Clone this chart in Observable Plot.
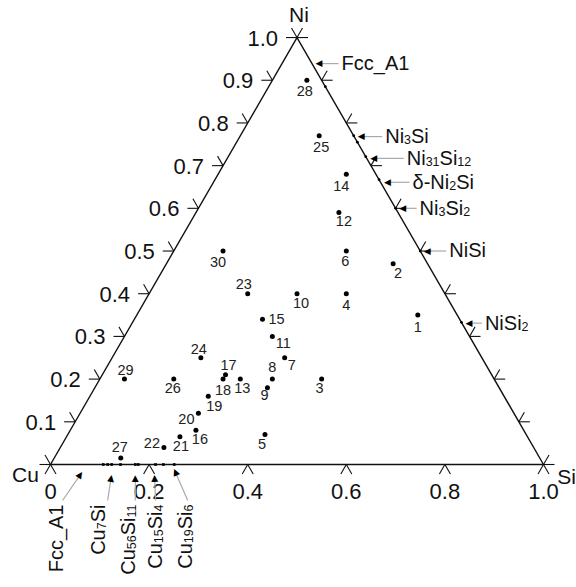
<!DOCTYPE html>
<html><head><meta charset="utf-8">
<script src="https://cdn.jsdelivr.net/npm/d3@7"></script>
<script src="https://cdn.jsdelivr.net/npm/@observablehq/plot@0.6"></script>
<style>body{margin:0;background:#fff} svg{display:block}</style>
</head><body><div id="chart"></div>
<script>
// ---- data (mole fractions) ----
const sampleIds = [1,2,3,4,5,6,7,8,9,10,11,12,13,14,15,16,17,18,19,20,21,22,23,24,25,26,27,28,29,30];
const sampleNi  = [0.35,0.47,0.20,0.40,0.07,0.50,0.25,0.20,0.18,0.40,0.30,0.59,0.20,0.68,0.34,0.08,0.21,0.20,0.16,0.12,0.065,0.04,0.40,0.25,0.77,0.20,0.015,0.90,0.20,0.50];
const sampleSi  = [0.57,0.46,0.45,0.40,0.40,0.35,0.35,0.35,0.35,0.30,0.30,0.29,0.285,0.26,0.26,0.255,0.25,0.25,0.24,0.24,0.23,0.21,0.20,0.18,0.16,0.15,0.135,0.07,0.05,0.10];

const vertexNames = ["Cu","Ni","Si"];
const vertexNi = [0,1,0];
const vertexSi = [0,0,1];

const edgeTickValues = [0,0.1,0.2,0.3,0.4,0.5,0.6,0.7,0.8,0.9,1.0];
const leftTickValues = [0.1,0.2,0.3,0.4,0.5,0.6,0.7,0.8,0.9,1.0];
const leftTickLabels = ["0.1","0.2","0.3","0.4","0.5","0.6","0.7","0.8","0.9","1.0"];
const bottomTickValues = [0,0.2,0.4,0.6,0.8,1.0];
const bottomTickLabels = ["0","0.2","0.4","0.6","0.8","1.0"];

const rightPhaseNames = ["Fcc_A1","Ni3Si","Ni31Si12","δ-Ni2Si","Ni3Si2","NiSi","NiSi2"];
const rightPhaseNi = [0.939,0.768,0.717,0.661,0.60,0.50,0.331];
const rightEdgeMarkNi = [0.885,0.77,0.755,0.721,0.667,0.60,0.50,0.333];

const bottomPhaseNames = ["Fcc_A1","Cu7Si","Cu56Si11","Cu15Si4","Cu19Si6"];
const bottomPhaseSi = [0.065,0.124,0.172,0.211,0.248];
const bottomEdgeMarkSi = [0.107,0.116,0.124,0.142,0.172,0.178,0.213,0.229,0.251];

// ---- layout (pixel offsets) ----
const sampleLabelOffset = [[0,12],[5,10],[-2,9],[0,12],[-3,10],[-1,10],[7,8],[0,-12],[-3,8],[4,10],
  [11,7],[5,9],[2,9],[-5,12],[14,0],[4,9],[3,-9],[0,11],[6,10],[-12,6],
  [1,10],[-12,-4],[-4,-9],[-2,-8],[2,12],[-1,9],[-1,-11],[-2,11],[1,-9],[-5,11]];
const vertexLabelOffset = [[-25,10.5],[2,-22],[23,12.5]];
const rightPhaseGap = [29.5,31,40,32,24,29,23];
const bottomPhaseLayout = [
  {tipDx:0, tipDy:7,  tailDx:-20, textDx:-26},
  {tipDx:0, tipDy:10, tailDx:-4,  textDx:-13.5},
  {tipDx:0, tipDy:10, tailDx:0,   textDx:-7},
  {tipDx:0, tipDy:10, tailDx:1,   textDx:1},
  {tipDx:1, tipDy:4,  tailDx:15,  textDx:13}];

// ---- ternary helpers ----
const S = Math.sqrt(3)/2;
const K = 493;               // pixels per unit
const L = 11 / K;            // tick arm length
const tx = (ni, si) => si + ni/2;
const ty = ni => ni * S;
const font = "Liberation Sans, Arial, Helvetica, sans-serif";

const samples = sampleIds.map((id,i) => ({id, ni: sampleNi[i], si: sampleSi[i], o: sampleLabelOffset[i]}));
const vertices = vertexNames.map((n,i) => ({name:n, ni: vertexNi[i], si: vertexSi[i], o: vertexLabelOffset[i]}));
const outline = [...vertices, vertices[0]];

const arms = [];
edgeTickValues.forEach(v => {
  const lx = tx(v,0), ly = ty(v);
  arms.push({x1:lx,y1:ly,x2:lx-L,y2:ly});
  arms.push({x1:lx,y1:ly,x2:lx-L/2,y2:ly+L*S});
  const rx = tx(v,1-v), ry = ty(v);
  arms.push({x1:rx,y1:ry,x2:rx+L,y2:ry});
  arms.push({x1:rx,y1:ry,x2:rx+L/2,y2:ry+L*S});
});
bottomTickValues.forEach(v => {
  arms.push({x1:v,y1:0,x2:v-L/2,y2:-L*S});
  arms.push({x1:v,y1:0,x2:v+L/2,y2:-L*S});
});

const leftTicks = leftTickValues.map((v,i) => ({v, label: leftTickLabels[i]}));
const bottomTicks = bottomTickValues.map((v,i) => ({v, label: bottomTickLabels[i]}));

const rightPhases = rightPhaseNames.map((name,i) => {
  const ni = rightPhaseNi[i], ex = 1 - ni/2;
  return {name, y: ty(ni), tip: ex + 3/K, lineA: ex + 9/K, lineB: ex + (rightPhaseGap[i]-3)/K, text: ex + rightPhaseGap[i]/K};
});
const bottomPhases = bottomPhaseNames.map((name,i) => {
  const lay = bottomPhaseLayout[i];
  const bx = bottomPhaseSi[i];
  const tipX = bx + lay.tipDx/K, tipY = -lay.tipDy/K;
  const tailX = bx + lay.tailDx/K, tailY = -36/K;
  const ddx = tipX - tailX, ddy = tipY - tailY; // data units, y up
  const len = Math.hypot(ddx, ddy);
  const ux = ddx/len, uy = ddy/len;
  return {name, tipX, tipY, tailX, tailY,
    headX: tipX - ux*3.5/K, headY: tipY - uy*3.5/K,
    angle: Math.atan2(ux, uy) * 180/Math.PI,
    textX: bx + lay.textDx/K, textY: -40/K};
});
const rightMarks = rightEdgeMarkNi.map(ni => ({x: 1 - ni/2, y: ty(ni)}));
const bottomMarks = bottomEdgeMarkSi.map(si => ({x: si, y: 0}));

const plot = Plot.plot({
  width: 576, height: 587,
  style: {fontFamily: font, background: "#fff"},
  x: {domain: [0,1], range: [50, 543], axis: null},
  y: {domain: [0,S], range: [464, 464 - K*S], axis: null},
  marks: [
    Plot.line(outline, {x: d => tx(d.ni,d.si), y: d => ty(d.ni), stroke: "#111", strokeWidth: 1.4}),
    Plot.link(arms, {x1:"x1", y1:"y1", x2:"x2", y2:"y2", stroke: "#111", strokeWidth: 1.1}),
    Plot.dot(rightMarks, {x:"x", y:"y", r: 1.4, fill: "#000"}),
    Plot.dot(bottomMarks, {x:"x", y:"y", r: 1.5, symbol: "square", fill: "#000"}),
    Plot.text(leftTicks, {x: d => tx(d.v,0), y: d => ty(d.v), text: "label", textAnchor: "end", dx: -19, dy: 1, fontSize: 22, fill: "#111"}),
    Plot.text(bottomTicks, {x: d => d.v, y: 0, text: "label", lineAnchor: "top", dy: 19, fontSize: 22, fill: "#111"}),
    Plot.text(vertices, {x: d => tx(d.ni,d.si) + d.o[0]/K, y: d => ty(d.ni) - d.o[1]/K, text: "name", fontSize: 21, fill: "#111"}),
    Plot.dot(samples, {x: d => tx(d.ni,d.si), y: d => ty(d.ni), r: 2.5, fill: "#000"}),
    Plot.text(samples, {x: d => tx(d.ni,d.si) + d.o[0]/K, y: d => ty(d.ni) - d.o[1]/K, text: "id", fontSize: 14.5, fill: "#222"}),
    // right-side phase annotations
    Plot.link(rightPhases, {x1: "lineA", x2: "lineB", y1: "y", y2: "y", stroke: "#aaa", strokeWidth: 1.2}),
    Plot.text(rightPhases, {x: d => d.tip + 4/K, y: "y", text: () => "◀", fontSize: 9, fill: "#000", fontFamily: "DejaVu Sans"}),
    Plot.text(rightPhases, {x: "text", y: "y", text: "name", textAnchor: "start", fontSize: 20, fill: "#111"}),
    // bottom phase annotations
    Plot.link(bottomPhases, {x1: "tailX", y1: "tailY", x2: "headX", y2: "headY", stroke: "#aaa", strokeWidth: 1.2}),
    Plot.text(bottomPhases, {x: "headX", y: "headY", rotate: "angle", text: () => "▲", fontSize: 9, fill: "#000", fontFamily: "DejaVu Sans"}),
    Plot.text(bottomPhases, {x: "textX", y: "textY", text: "name", rotate: -90, textAnchor: "end", fontSize: 20, fill: "#111"})
  ]
});

// chemical-formula subscripts
const formulaNames = new Set([...rightPhaseNames, ...bottomPhaseNames].filter(n => n !== "Fcc_A1"));
d3.select(plot).selectAll("text").each(function() {
  const t = this.textContent;
  if (!formulaNames.has(t)) return;
  const sel = d3.select(this);
  sel.text(null);
  const parts = t.match(/\d+|[^\d]+/g);
  let shifted = false;
  parts.forEach(p => {
    const isNum = /^\d+$/.test(p);
    const ts = sel.append("tspan").text(p);
    if (isNum) { ts.attr("font-size", 12.5).attr("dy", shifted ? null : 1); shifted = true; }
    else if (shifted) { ts.attr("dy", -1); shifted = false; }
  });
});

document.getElementById("chart").appendChild(plot);
</script>
</body></html>
